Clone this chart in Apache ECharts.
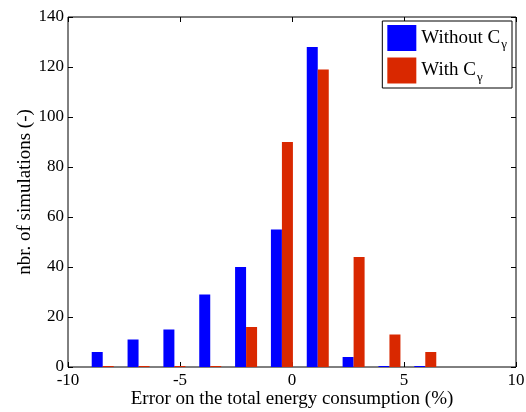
<!DOCTYPE html>
<html>
<head>
<meta charset="utf-8">
<script src="https://cdn.jsdelivr.net/npm/echarts@6/dist/echarts.min.js"></script>
<style>
  html, body { margin: 0; padding: 0; background: #fff; }
  #chart { width: 526px; height: 412px; }
</style>
</head>
<body>
<div id="chart"></div>
<script>
// bin centres (error %)
const binCenters = [-8.45, -6.85, -5.25, -3.65, -2.05, -0.45, 1.15, 2.75, 4.35, 5.95];
// counts per bin
const withoutC = [6, 11, 15, 29, 40, 55, 128, 4, 0, 0];
const withC = [0, 0, 0, 0, 16, 90, 119, 44, 13, 6];
const xTicks = [-10, -5, 0, 5, 10];
const yTicks = [0, 20, 40, 60, 80, 100, 120, 140];

const font = 'Liberation Serif';
const chart = echarts.init(document.getElementById('chart'));

const pairs = (vals) => binCenters.map((x, i) => [x, vals[i]]);

const tickAxis = {
  axisLine: { show: false, onZero: false },
  axisTick: { show: true, inside: true, length: 5, lineStyle: { color: '#000' } },
  splitLine: { show: false }
};

chart.setOption({
  animation: false,
  textStyle: { fontFamily: font },
  grid: {
    left: 68, right: 10, top: 17, bottom: 45,
    outerBoundsMode: 'none', containLabel: false,
    show: true, borderColor: '#000', borderWidth: 1
  },
  legend: {
    right: 14, top: 21,
    orient: 'vertical',
    icon: 'rect',
    itemWidth: 29, itemHeight: 26, itemGap: 6,
    borderColor: '#000', borderWidth: 1,
    padding: [4, 5, 4, 5],
    backgroundColor: '#fff',
    data: ['Without', 'With'],
    formatter: (name) => name === 'Without' ? '{t|Without C}{s|γ}' : '{t|With C}{s|γ}',
    textStyle: {
      rich: {
        t: { fontFamily: font, fontSize: 19, color: '#000' },
        s: { fontFamily: font, fontSize: 13, color: '#000', padding: [14, 0, 0, 1] }
      }
    }
  },
  xAxis: [{
    type: 'value', min: xTicks[0], max: xTicks[xTicks.length - 1], interval: 5,
    name: 'Error on the total energy consumption (%)',
    nameLocation: 'middle', nameGap: 23, nameMoveOverlap: false,
    nameTextStyle: { fontFamily: font, fontSize: 19, color: '#000' },
    axisLabel: { fontFamily: font, fontSize: 17, color: '#000', margin: 5 },
    ...tickAxis
  }, {
    type: 'value', position: 'top', min: -10, max: 10, interval: 5,
    axisLabel: { show: false }, ...tickAxis
  }],
  yAxis: [{
    type: 'value', min: yTicks[0], max: yTicks[yTicks.length - 1], interval: 20,
    name: 'nbr. of simulations (-)',
    nameLocation: 'middle', nameGap: 33, nameMoveOverlap: false,
    nameTextStyle: { fontFamily: font, fontSize: 19, color: '#000' },
    axisLabel: { fontFamily: font, fontSize: 17, color: '#000', margin: 4 },
    ...tickAxis
  }, {
    type: 'value', position: 'right', min: 0, max: 140, interval: 20,
    axisLabel: { show: false }, ...tickAxis
  }],
  series: [{
    name: 'Without', type: 'bar', data: pairs(withoutC),
    barWidth: 11, barGap: '0%', barMinHeight: 1,
    itemStyle: { color: '#0000ff' }
  }, {
    name: 'With', type: 'bar', data: pairs(withC),
    barWidth: 11, barGap: '0%', barMinHeight: 1,
    itemStyle: { color: '#d92800' }
  }]
});
</script>
</body>
</html>
